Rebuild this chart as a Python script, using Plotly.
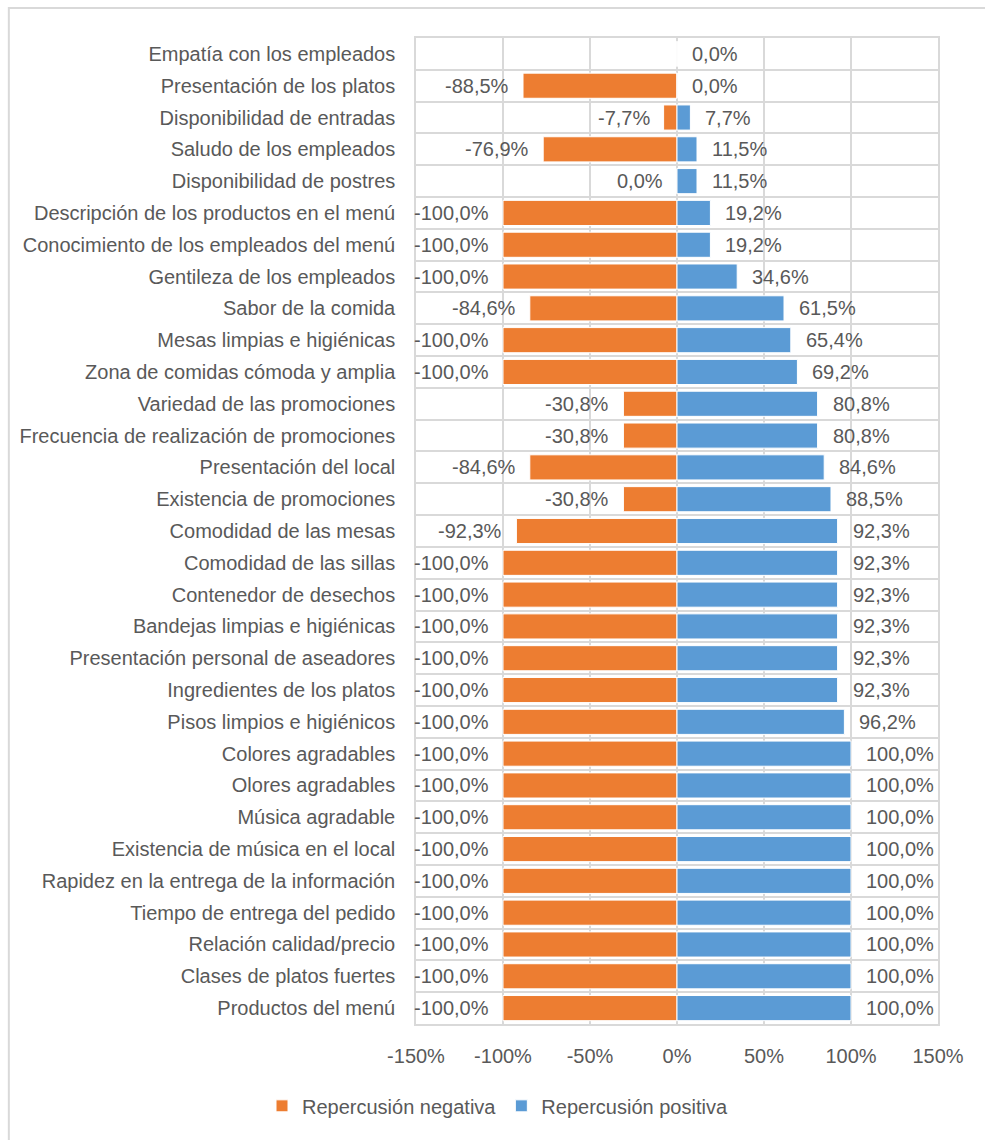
import plotly.graph_objects as go

# Attributes, listed top to bottom
categories = [
    "Empatía con los empleados",
    "Presentación de los platos",
    "Disponibilidad de entradas",
    "Saludo de los empleados",
    "Disponibilidad de postres",
    "Descripción de los productos en el menú",
    "Conocimiento de los empleados del menú",
    "Gentileza de los empleados",
    "Sabor de la comida",
    "Mesas limpias e higiénicas",
    "Zona de comidas cómoda y amplia",
    "Variedad de las promociones",
    "Frecuencia de realización de promociones",
    "Presentación del local",
    "Existencia de promociones",
    "Comodidad de las mesas",
    "Comodidad de las sillas",
    "Contenedor de desechos",
    "Bandejas limpias e higiénicas",
    "Presentación personal de aseadores",
    "Ingredientes de los platos",
    "Pisos limpios e higiénicos",
    "Colores agradables",
    "Olores agradables",
    "Música agradable",
    "Existencia de música en el local",
    "Rapidez en la entrega de la información",
    "Tiempo de entrega del pedido",
    "Relación calidad/precio",
    "Clases de platos fuertes",
    "Productos del menú",
]

# Negative impact (%); None = no value shown for that attribute
negativa = [
    None, -88.5, -7.7, -76.9, 0.0, -100.0, -100.0, -100.0, -84.6, -100.0,
    -100.0, -30.8, -30.8, -84.6, -30.8, -92.3, -100.0, -100.0, -100.0, -100.0,
    -100.0, -100.0, -100.0, -100.0, -100.0, -100.0, -100.0, -100.0, -100.0, -100.0,
    -100.0,
]

# Positive impact (%)
positiva = [
    0.0, 0.0, 7.7, 11.5, 11.5, 19.2, 19.2, 34.6, 61.5, 65.4,
    69.2, 80.8, 80.8, 84.6, 88.5, 92.3, 92.3, 92.3, 92.3, 92.3,
    92.3, 96.2, 100.0, 100.0, 100.0, 100.0, 100.0, 100.0, 100.0, 100.0,
    100.0,
]

x_tick_values = [-150, -100, -50, 0, 50, 100, 150]
x_tick_labels = ["-150%", "-100%", "-50%", "0%", "50%", "100%", "150%"]

ORANGE = "#ED7D31"
BLUE = "#5B9BD5"
GRID = "#D9D9D9"
TEXT = "#595959"
FONT = "Liberation Sans, Arial, sans-serif"
FS = 20


def fmt(v):
    return f"{v:.1f}".replace(".", ",") + "%"


rows = list(range(len(categories)))

fig = go.Figure()
fig.add_trace(go.Bar(
    y=rows, x=[v if v is not None else 0 for v in negativa], orientation="h",
    name="Repercusión negativa", marker=dict(color=ORANGE, line=dict(color="white", width=1)),
    hoverinfo="skip",
))
fig.add_trace(go.Bar(
    y=rows, x=positiva, orientation="h",
    name="Repercusión positiva", marker=dict(color=BLUE, line=dict(color="white", width=1)),
    hoverinfo="skip",
))

# Value labels at the outer end of each bar
annotations = []
for i, v in enumerate(negativa):
    if v is None:
        continue
    annotations.append(dict(x=v, y=i, xref="x", yref="y", text=fmt(v), showarrow=False,
                            xanchor="right", xshift=-12, font=dict(size=FS, color=TEXT, family=FONT)))
for i, v in enumerate(positiva):
    annotations.append(dict(x=v, y=i, xref="x", yref="y", text=fmt(v), showarrow=False,
                            xanchor="left", xshift=13, font=dict(size=FS, color=TEXT, family=FONT)))

fig.update_layout(
    width=985, height=1140,
    margin=dict(l=416, r=47, t=38, b=116),
    paper_bgcolor="white", plot_bgcolor="white",
    barmode="relative", bargap=0.21,
    font=dict(family=FONT, size=FS, color=TEXT),
    annotations=annotations,
    showlegend=True,
    legend=dict(orientation="h", x=-0.295, xanchor="left", y=-0.083, yanchor="middle",
                font=dict(size=FS, color=TEXT, family=FONT), itemwidth=30,
                traceorder="normal"),
    shapes=[dict(type="rect", xref="paper", yref="paper",
                 x0=-0.78, x1=1.2, y0=-0.2, y1=1.0304,
                 line=dict(color=GRID, width=2), layer="below")],
)

fig.update_xaxes(
    range=[-150, 150], tickmode="array", tickvals=x_tick_values, ticktext=x_tick_labels,
    showgrid=True, gridcolor=GRID, gridwidth=1.5,
    zeroline=True, zerolinecolor=GRID, zerolinewidth=1.5,
    showline=True, linecolor=GRID, linewidth=1.5, mirror=True,
    ticks="", ticklabelstandoff=13, tickfont=dict(size=FS, color=TEXT, family=FONT),
    automargin=False,
)
fig.update_yaxes(
    range=[len(categories) - 0.5, -0.5], tickmode="array", tickvals=rows, ticktext=categories,
    showgrid=False, zeroline=False,
    showline=True, linecolor=GRID, linewidth=1.5, mirror=True,
    minor=dict(tickmode="array", tickvals=[k - 0.5 for k in range(len(categories) + 1)],
               showgrid=True, gridcolor=GRID, gridwidth=1.5, ticks=""),
    ticks="", ticklabelstandoff=15, tickfont=dict(size=FS, color=TEXT, family=FONT),
    automargin=False,
)

fig.write_html("out.html")
